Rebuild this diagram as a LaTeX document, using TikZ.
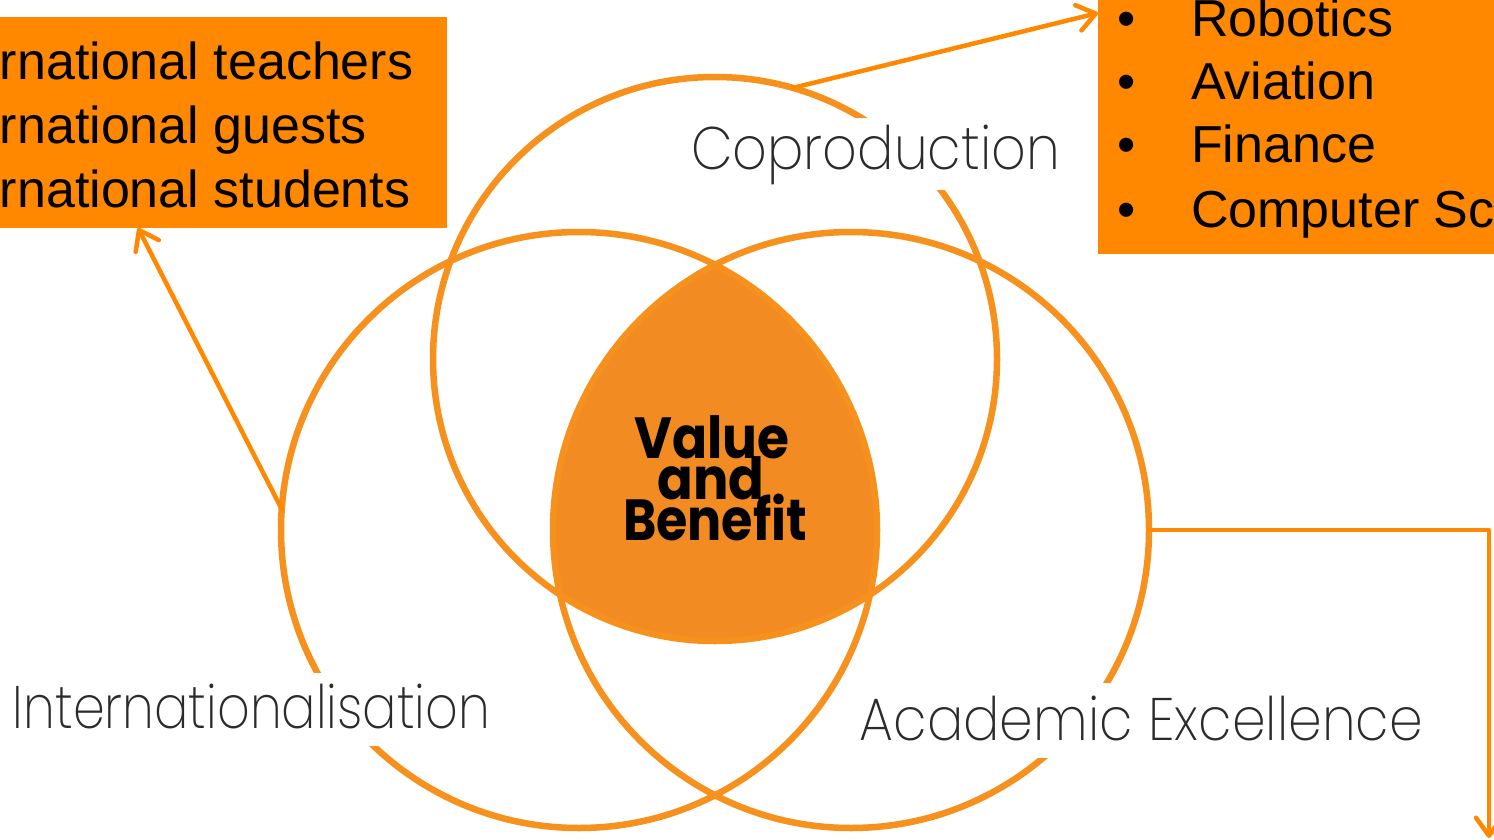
\documentclass[tikz,border=0pt]{standalone}
\usepackage{fontspec}
\usepackage{graphicx}
\usetikzlibrary{arrows.meta}
\setmainfont{Liberation Sans}
\IfFontExistsTF{Poppins ExtraLight}{\newfontfamily\thinfont{Poppins ExtraLight}}{%
  \IfFontExistsTF{Poppins Light}{\newfontfamily\thinfont{Poppins Light}}{\newfontfamily\thinfont{Poppins}}}
\IfFontExistsTF{Poppins Bold}{\newfontfamily\geobold{Poppins Bold}}{\newfontfamily\geobold{Poppins}[FakeBold=2]}
\definecolor{ringc}{HTML}{F6911E}
\definecolor{fillc}{HTML}{F38B23}
\definecolor{boxc}{HTML}{FF8800}
\definecolor{connc}{HTML}{FF8800}
\definecolor{lblc}{HTML}{2B2B2B}
\begin{document}
\begin{tikzpicture}[x=1pt,y=-1pt,
  ring/.style={circle,draw=ringc,line width=6.5pt,inner sep=0pt,outer sep=0pt},
  obox/.style={rectangle,fill=boxc,draw=none,inner sep=0pt,outer sep=0pt},
  boxtxt/.style={anchor=base west,inner sep=0pt,text=black,font=\fontsize{52pt}{62pt}\selectfont},
  bul/.style={anchor=base,inner sep=0pt,text=black,font=\fontsize{52pt}{62pt}\selectfont},
  conn/.style={draw=connc,line width=4.5pt,line cap=round,line join=round,
    -{Straight Barb[length=18pt,width=26pt,line cap=round,line join=round]}},
  lbl/.style={anchor=base,fill=white,inner sep=0pt,text=lblc,font=\thinfont\fontsize{60pt}{60pt}\selectfont},
  vbtxt/.style={anchor=base,inner sep=0pt,text=black,font=\geobold\fontsize{58pt}{58pt}\selectfont}]
\useasboundingbox (0,0) rectangle (1494,840);
\clip (0,0) rectangle (1494,840);

% orange boxes
\node[obox, minimum width=480pt, minimum height=211pt, anchor=north east] (boxL) at (447,17) {};
\node[obox, minimum width=420pt, minimum height=274pt, anchor=south west] (boxR) at (1098,254) {};

\node[boxtxt] (l1) at (-87,80) {International teachers};
\node[boxtxt] (l2) at (-87,143) {International guests};
\node[boxtxt] (l3) at (-87,207) {International students};

\node[bul] (b1) at (1127,37) {•};
\node[bul] (b2) at (1127,100) {•};
\node[bul] (b3) at (1127,163) {•};
\node[bul] (b4) at (1127,227) {•};
\node[boxtxt] (r1) at (1191,37) {Robotics};
\node[boxtxt] (r2) at (1191,100) {Aviation};
\node[boxtxt] (r3) at (1191,163) {Finance};
\node[boxtxt] (r4) at (1191,227) {Computer Science};

% centres of the three circles
\coordinate (oT) at (715,359);
\coordinate (oL) at (579,530);
\coordinate (oR) at (851,530);

% common intersection
\begin{scope}
  \clip (oT) circle[radius=282pt];
  \clip (oL) circle[radius=298pt];
  \fill[fillc] (oR) circle[radius=298pt];
\end{scope}

% circles
\node[ring, minimum size=564pt] (cT) at (oT) {};
\node[ring, minimum size=596pt] (cL) at (oL) {};
\node[ring, minimum size=596pt] (cR) at (oR) {};

% connectors
\coordinate (tR) at (0,13);
\coordinate (tL) at (138,0);
\coordinate (endA) at (1489,838);
\draw[conn] (cT.74) -- (boxR.west |- tR);
\draw[conn] (cL.176) -- (tL |- boxL.south);
\draw[conn] (cR.0.8) -| (endA);

% labels
\node[lbl, text height=52pt, text depth=20pt] (cop) at (875.5,170) {\resizebox{369pt}{\height}{Coproduction}};
\node[lbl, text height=55pt, text depth=18pt] (intl) at (251.5,728) {\resizebox{477pt}{\height}{Internationalisation}};
\node[lbl, text height=57pt, text depth=18pt] (acad) at (1141.5,740) {\resizebox{563pt}{\height}{Academic Excellence}};

\node[vbtxt] (v1) at (712,458) {\resizebox{155pt}{\height}{Value}};
\node[vbtxt] (v2) at (711,499) {\resizebox{107pt}{\height}{and}};
\node[vbtxt] (v3) at (715,540) {\resizebox{184pt}{\height}{Benefit}};
\end{tikzpicture}
\end{document}
